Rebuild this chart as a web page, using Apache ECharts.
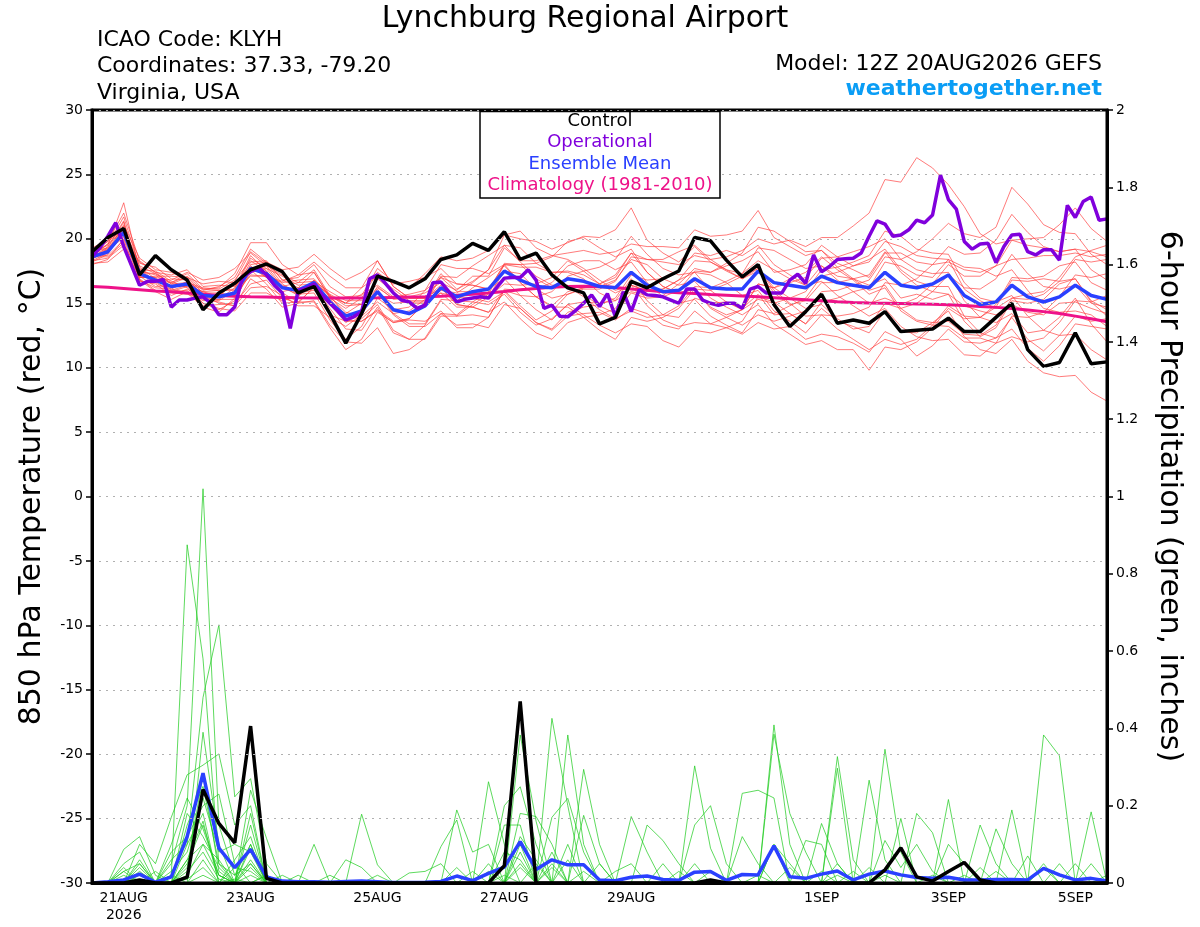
<!DOCTYPE html>
<html><head><meta charset="utf-8">
<script src="https://cdn.jsdelivr.net/npm/echarts@6/dist/echarts.min.js"></script>
<style>html,body{margin:0;padding:0;background:#fff}#c{width:1200px;height:927px}</style>
</head><body><div id="c"></div>
<script>
// ---- time axis (hours after 12Z 20AUG2026) ----
const stepHours = 6;          // ensemble / control / mean / climatology step
const opStepHours = 3;        // operational run step
const tickHours = [12, 60, 108, 156, 204, 276, 324, 372];
const tickLabels = ['21AUG\n2026', '23AUG', '25AUG', '27AUG', '29AUG', '1SEP', '3SEP', '5SEP'];

// ---- 850 hPa temperature (C) ----
const controlTemp = [19.0,20.1,20.8,17.2,18.7,17.6,16.8,14.5,15.8,16.55,17.6,18.05,17.45,15.8,16.3,14.2,11.9,14.2,17.1,16.7,16.2,16.9,18.4,18.75,19.65,19.1,20.55,18.4,18.9,17.2,16.2,15.8,13.4,13.9,16.7,16.2,16.9,17.5,20.1,19.85,18.35,17.05,18.0,14.9,13.2,14.35,15.7,13.45,13.7,13.45,14.35,12.8,12.9,13.0,13.85,12.8,12.8,13.9,15.0,11.4,10.1,10.4,12.7,10.3,10.45];
const operationalTemp = [18.6,19.3,20.2,21.25,19.4,17.9,16.4,16.7,16.7,16.85,
 14.7,15.25,15.25,15.4,15.5,15.0,14.1,14.1,14.7,17.05,
 17.45,17.8,17.2,16.4,15.8,13.05,16.0,16.15,16.5,15.65,
 15.0,14.4,13.7,13.95,14.35,16.9,17.2,16.55,15.8,15.25,
 15.1,14.6,14.85,16.6,16.65,15.9,15.1,15.3,15.4,15.5,
 15.4,16.2,16.95,17.0,17.0,17.6,16.8,14.6,14.85,14.0,
 13.95,14.45,15.0,15.65,14.75,15.75,13.95,15.9,14.35,16.05,
 15.65,15.6,15.5,15.25,15.0,16.1,16.1,15.25,15.0,14.85,
 15.0,15.0,14.6,16.1,16.3,15.8,15.8,15.8,16.8,17.25,
 16.55,18.75,17.45,17.85,18.4,18.45,18.5,18.9,20.2,21.4,
 21.15,20.2,20.3,20.7,21.45,21.25,21.85,24.95,23.05,22.3,
 19.8,19.2,19.6,19.65,18.15,19.4,20.3,20.35,19.0,18.75,
 19.15,19.15,18.35,22.6,21.65,22.9,23.25,21.45,21.55];
const meanTemp = [18.6,19.0,20.5,17.3,16.8,16.3,16.5,15.6,15.5,15.8,17.7,17.3,16.2,16.0,16.6,15.1,14.0,14.4,15.9,14.5,14.2,14.8,16.2,15.5,15.9,16.1,17.5,16.8,16.3,16.2,16.9,16.7,16.3,16.2,17.4,16.4,15.9,16.0,16.9,16.2,16.1,16.1,17.5,16.6,16.4,16.2,17.1,16.6,16.4,16.2,17.4,16.4,16.2,16.5,17.2,15.6,14.9,15.1,16.4,15.5,15.1,15.5,16.4,15.6,15.3];
const climTemp = [16.3,16.25,16.15,16.05,15.95,15.9,15.8,15.7,15.6,15.55,15.5,15.48,15.45,15.42,15.4,15.4,15.4,15.4,15.42,15.45,15.48,15.5,15.55,15.62,15.7,15.8,15.92,16.05,16.15,16.25,16.3,16.32,16.3,16.22,16.1,16.0,15.9,15.82,15.75,15.68,15.62,15.56,15.5,15.43,15.35,15.28,15.2,15.12,15.06,15.02,15.0,14.98,14.95,14.92,14.88,14.82,14.75,14.68,14.6,14.48,14.35,14.2,14.0,13.8,13.57];

const tempM01 = [18.9,19.5,22.8,17.5,17.2,16.3,16.3,15.9,16.0,16.1,18.5,17.7,16.2,15.7,16.8,15.5,15.0,15.7,16.4,15.5,15.7,16.0,17.0,16.5,16.4,16.1,18.0,17.8,17.8,17.4,17.5,17.2,16.5,17.2,18.9,18.4,18.2,18.0,18.7,18.4,18.6,19.1,20.0,19.6,19.9,19.4,20.1,20.1,21.0,22.0,24.6,24.4,26.3,25.5,24.2,22.5,20.4,19.6,19.9,19.5,19.3,19.0,19.2,19.0,18.6];
const tempM02 = [18.3,18.5,19.5,17.6,16.6,15.9,16.0,14.8,14.9,15.0,16.5,16.8,15.4,15.0,16.3,14.6,13.0,12.9,14.7,12.7,12.2,13.3,15.2,14.0,14.1,13.9,16.0,15.6,14.5,13.7,14.9,15.1,15.0,15.2,16.9,15.2,14.1,13.9,15.4,15.0,15.1,14.6,15.7,14.1,14.2,13.4,14.6,13.6,13.2,12.7,14.4,12.8,12.7,13.5,14.4,12.4,11.4,11.1,12.2,10.5,9.6,9.3,9.4,8.1,7.4];
const tempM03 = [19.1,19.8,20.7,17.9,17.3,16.6,17.1,16.0,16.3,17.0,19.2,18.2,16.8,17.0,18.0,16.3,15.5,15.6,17.7,16.7,16.2,17.3,18.6,18.3,18.5,19.1,20.3,20.0,19.8,19.2,19.7,20.2,20.1,20.7,22.4,19.9,18.9,18.2,19.4,18.2,17.6,17.3,18.3,17.6,16.9,16.4,17.9,17.1,16.9,16.4,16.9,15.4,15.7,15.3,15.7,14.8,14.4,14.1,14.9,14.3,14.1,15.0,15.1,14.6,14.2];
const tempM04 = [18.4,19.2,21.0,17.0,17.1,17.1,17.0,15.8,15.8,15.6,17.2,17.1,16.6,16.8,16.9,15.6,14.8,14.9,16.2,15.4,15.5,15.8,16.6,16.0,17.1,17.1,19.3,18.3,18.3,18.7,18.9,19.1,18.8,19.0,19.6,19.4,19.4,19.3,20.7,20.2,20.3,20.6,22.2,20.1,19.4,18.7,19.1,18.1,17.6,17.0,18.9,18.9,18.2,18.0,18.2,17.6,17.4,17.9,18.4,18.5,18.7,18.7,18.9,18.6,18.8];
const tempM05 = [18.7,18.7,19.9,16.9,16.0,15.8,15.7,15.3,15.1,14.8,16.9,16.1,14.7,15.0,15.2,13.3,12.0,11.9,13.1,11.1,11.4,12.3,14.2,13.3,13.4,13.1,14.9,14.6,13.5,12.9,14.0,14.2,14.3,13.7,14.6,14.2,13.3,13.0,14.4,13.4,13.1,12.6,13.5,13.0,13.2,12.2,12.6,12.4,11.9,11.2,12.8,12.2,10.9,11.7,13.0,12.0,11.9,12.3,13.9,12.2,11.3,12.5,14.0,13.6,13.8];
const tempM06 = [18.8,19.6,21.7,17.8,16.9,16.1,16.7,15.5,15.3,16.2,18.7,17.5,15.9,16.2,17.4,15.5,14.3,14.0,15.1,14.2,14.4,15.3,17.3,16.1,16.7,17.6,19.5,19.3,18.1,17.4,17.4,16.9,15.8,15.2,15.9,15.6,15.6,16.5,17.7,17.4,17.9,18.3,19.0,17.4,17.6,18.0,19.5,18.6,17.9,18.2,19.8,19.4,18.7,18.5,18.4,16.1,15.2,14.6,15.4,15.7,15.9,17.0,18.6,19.1,19.5];
const tempM07 = [18.2,18.8,20.8,18.1,17.8,16.9,16.8,15.7,15.7,16.4,17.8,17.0,16.4,15.8,16.0,14.9,13.5,14.2,16.3,15.3,15.4,15.4,16.4,15.2,15.1,14.9,15.7,14.3,13.3,13.8,14.9,14.1,13.3,12.7,13.4,13.2,12.1,11.6,12.9,12.7,13.1,13.6,15.5,15.1,14.2,13.4,15.1,15.4,15.9,16.2,18.2,17.9,17.2,17.0,18.4,17.8,17.7,17.1,17.6,16.0,14.6,14.3,14.4,14.1,13.2];
const tempM08 = [19.0,19.1,20.1,18.2,17.4,17.2,17.6,16.3,16.4,16.3,17.5,17.9,17.2,16.6,16.7,15.9,15.2,15.2,15.7,15.0,15.1,15.1,15.8,14.7,14.7,15.5,17.5,17.3,16.1,15.4,15.7,16.2,16.5,17.0,18.9,17.4,16.3,15.8,16.1,14.7,14.1,14.5,16.5,16.2,16.9,17.4,18.6,17.6,16.8,15.7,16.2,14.4,13.6,13.3,13.2,12.3,12.3,11.9,12.4,12.0,12.3,13.5,15.2,15.1,15.6];
const tempM09 = [18.5,19.4,21.4,17.1,16.3,16.4,16.5,16.1,16.2,17.3,19.7,19.7,18.0,17.2,18.2,17.1,16.2,16.2,17.1,16.1,15.2,15.2,16.0,15.8,16.6,17.6,20.3,20.6,19.3,18.7,18.4,17.7,16.8,16.0,16.4,15.9,16.1,16.8,17.4,17.2,16.6,15.6,16.0,14.4,13.6,12.7,14.1,14.0,14.2,14.7,16.6,16.4,16.9,18.0,19.4,18.8,18.9,19.9,21.9,20.5,19.4,19.0,19.2,17.6,16.8];
const tempM10 = [19.2,19.2,20.2,17.6,17.5,16.7,16.2,15.0,14.5,15.2,17.6,16.5,15.0,15.1,16.2,14.1,13.6,13.6,14.4,13.5,13.7,13.6,14.4,13.1,13.1,13.9,16.0,14.8,13.7,14.4,15.7,16.1,16.1,16.7,18.6,18.4,18.4,19.0,19.5,18.4,17.6,16.9,17.5,15.8,14.9,15.2,16.6,16.6,16.9,17.2,19.0,17.4,16.4,15.9,15.7,13.6,12.4,13.1,15.2,15.0,15.3,16.5,16.9,15.1,14.0];
const tempM11 = [18.6,18.6,19.7,16.7,16.5,15.6,16.1,15.4,15.2,16.0,18.2,18.3,16.8,16.2,16.4,15.4,14.6,15.4,17.4,16.5,16.7,17.0,17.7,16.5,16.4,16.1,16.9,15.6,15.5,15.9,17.1,17.5,17.8,18.4,20.2,18.8,17.7,17.2,17.4,16.0,15.1,14.5,15.3,15.0,15.4,15.9,17.6,17.8,18.2,18.7,20.6,20.2,19.2,18.9,18.8,16.6,15.4,15.1,15.6,14.0,12.9,12.5,12.6,11.4,10.6];
const tempM12 = [18.9,19.8,22.0,18.3,17.4,16.5,17.0,16.5,16.7,16.6,17.9,17.0,16.3,16.6,17.6,15.6,14.0,13.8,14.9,12.9,12.2,12.2,14.0,14.0,14.9,15.7,18.0,18.0,16.9,16.2,16.3,15.5,14.5,13.8,14.4,13.9,14.1,14.8,16.3,16.2,16.7,17.3,19.3,19.1,18.4,17.7,17.9,16.8,15.9,15.0,15.4,14.9,15.4,16.5,18.0,17.1,17.1,17.9,19.9,20.0,20.1,21.1,22.4,20.8,19.8];
const tempM13 = [18.1,18.2,19.2,17.1,16.8,16.6,17.3,16.1,16.0,16.0,17.1,17.1,16.7,17.2,17.4,15.4,13.7,13.6,14.5,13.6,13.8,15.1,17.1,17.0,17.9,18.7,19.5,18.2,17.1,16.4,16.4,15.7,14.8,14.2,15.8,15.4,15.5,16.0,17.5,17.4,18.1,18.9,20.9,20.6,19.8,19.0,19.1,17.8,16.9,16.0,16.4,14.6,13.7,13.5,13.6,12.6,12.5,13.3,15.4,15.3,15.7,16.7,18.4,18.2,18.4];
const tempM14 = [18.8,19.0,21.1,18.5,17.6,17.4,16.9,15.6,15.0,14.8,16.2,16.3,15.6,14.8,14.8,13.9,13.2,14.1,16.1,14.2,13.4,13.4,15.3,15.2,16.2,17.0,17.9,16.6,15.5,14.7,14.7,13.9,12.9,12.2,13.9,13.6,13.9,14.6,16.1,16.0,16.5,17.1,17.7,16.0,15.0,14.0,14.1,13.0,12.2,11.4,12.2,11.8,12.2,13.3,14.8,14.0,13.9,14.7,16.8,16.7,16.9,16.7,16.9,15.2,14.5];
const tempM15 = [18.4,19.3,20.4,16.8,15.9,15.3,15.9,15.2,15.3,15.3,17.4,17.7,17.1,16.4,16.5,15.7,15.0,16.2,18.3,16.3,15.4,15.4,16.2,14.9,14.7,14.3,16.1,16.0,16.1,16.6,17.9,18.3,18.3,17.6,18.2,16.6,15.5,15.0,15.3,14.0,13.3,12.7,14.5,14.2,14.8,15.4,17.1,17.4,17.9,18.4,19.2,17.6,16.7,16.3,16.3,14.0,12.7,12.3,13.0,11.5,10.5,11.7,13.4,13.2,13.0];
const tempM16 = [19.3,19.9,20.8,17.2,17.0,16.0,16.4,15.9,15.5,16.7,19.0,18.1,16.5,15.7,15.8,13.7,12.2,13.2,15.4,14.5,14.7,16.0,18.0,17.7,17.7,17.3,18.0,16.6,15.5,14.8,15.9,16.2,16.3,16.8,18.4,18.0,16.9,16.4,16.7,15.4,14.7,14.1,14.9,13.4,12.6,11.8,12.1,11.4,11.4,9.8,11.6,11.4,12.0,13.1,14.6,13.8,13.9,14.9,17.0,16.9,17.1,17.9,18.2,16.6,16.0];
const tempM17 = [18.3,18.9,20.9,17.0,17.0,16.8,17.4,16.8,17.0,17.7,18.9,17.9,16.3,15.6,16.6,15.6,15.0,14.9,15.9,14.1,13.2,13.2,14.2,14.1,15.1,15.9,18.1,18.0,18.1,18.6,19.8,20.1,19.3,18.6,19.2,17.4,16.3,15.8,16.1,14.6,13.9,13.3,14.1,13.6,14.0,14.4,15.9,16.0,16.4,16.8,18.6,18.4,19.0,20.0,21.2,20.4,20.1,20.9,24.0,22.7,21.1,20.5,20.4,18.8,18.0];
const tempM18 = [18.7,19.6,20.6,17.7,16.7,15.9,16.3,15.0,14.6,14.4,15.8,15.8,15.2,15.5,16.8,14.9,14.2,15.0,16.9,15.9,15.0,15.0,15.8,15.5,15.4,15.1,15.9,14.6,13.5,13.0,14.3,14.7,14.9,15.4,17.2,16.8,16.9,17.5,18.9,18.7,19.1,18.7,19.5,18.0,17.2,16.4,16.7,15.6,14.8,14.0,14.6,13.2,12.4,12.1,12.2,11.0,10.9,11.9,14.0,13.9,14.3,15.5,17.2,17.0,17.3];
const tempM19 = [18.0,18.4,20.0,17.4,17.3,16.5,16.6,16.2,16.1,16.8,18.3,17.5,15.8,15.1,15.1,13.1,11.4,12.2,14.3,13.5,13.8,15.0,17.0,15.9,15.9,15.5,16.5,16.4,16.5,17.0,18.3,17.5,16.5,15.8,16.4,14.8,13.7,13.2,13.5,13.4,13.9,14.5,16.5,16.2,16.6,17.0,18.5,18.6,19.0,19.4,20.0,18.4,17.6,17.3,17.4,15.2,13.9,13.5,14.2,12.7,12.9,13.9,15.4,13.4,12.0];
const tempM20 = [19.0,19.3,21.3,16.8,16.2,16.1,15.8,14.7,14.3,15.4,18.0,18.2,17.6,17.8,18.8,17.7,16.8,17.4,18.3,16.3,15.4,15.4,16.2,14.9,14.7,14.3,15.1,13.8,12.7,12.2,13.5,13.9,14.1,14.6,16.4,16.0,16.1,16.8,18.3,18.2,17.5,16.9,17.7,16.2,15.4,14.6,14.9,13.8,13.0,13.2,15.0,14.6,15.0,15.9,17.2,16.2,16.1,16.9,18.8,17.3,16.3,16.1,16.4,15.0,14.7];
const tempMembers = [tempM01,tempM02,tempM03,tempM04,tempM05,tempM06,tempM07,tempM08,tempM09,tempM10,tempM11,tempM12,tempM13,tempM14,tempM15,tempM16,tempM17,tempM18,tempM19,tempM20];

// ---- 6-hour precipitation (inches) ----
const controlPrecip = [0,0,0,0.008,0,0,0.015,0.242,0.154,0.104,0.406,0.012,0,0,0,0,0,0,0,0,0,0,0,0,0,0,0.045,0.47,0,0,0,0,0,0,0,0,0,0,0,0.008,0,0,0,0,0,0,0,0,0,0,0.034,0.091,0.016,0.005,0.03,0.053,0.008,0,0,0,0,0,0,0,0];
const meanPrecip = [0,0.003,0.008,0.023,0.002,0.016,0.12,0.284,0.09,0.04,0.087,0.016,0.005,0.003,0.003,0.002,0.004,0.005,0.003,0.001,0.001,0.002,0.004,0.018,0.006,0.025,0.041,0.107,0.035,0.06,0.047,0.047,0.008,0.006,0.015,0.018,0.009,0.007,0.028,0.03,0.007,0.022,0.021,0.096,0.016,0.012,0.023,0.031,0.008,0.023,0.031,0.021,0.014,0.012,0.015,0.008,0.008,0.009,0.009,0.008,0.038,0.021,0.008,0.012,0.005];

const precipM01 = [0,0,0.03,0.05,0,0.02,0.875,0.58,0.05,0.02, 0.1,0,0,0,0,0,0,0,0,0, 0,0,0,0,0,0,0,0.05,0,0.426, 0.2,0,0,0,0,0,0,0,0,0, 0,0,0,0.1,0,0,0,0,0,0, 0,0,0,0,0,0,0,0,0,0, 0.05,0,0,0,0];
const precipM02 = [0,0,0,0,0,0.05,0.2,1.02,0.15,0.02, 0.05,0,0,0,0,0,0,0.178,0.047,0, 0,0,0,0,0,0,0,0,0,0, 0,0,0,0,0,0,0,0,0.303,0.09, 0,0,0,0,0,0,0,0.05,0,0, 0,0,0,0,0,0,0,0,0.189,0, 0,0,0,0,0];
const precipM03 = [0,0,0,0,0,0,0.1,0.48,0.668,0.223, 0.27,0.05,0,0,0,0,0,0,0,0, 0,0,0,0,0,0.262,0.1,0,0,0, 0,0,0,0,0,0,0,0,0,0, 0,0,0,0.409,0.1,0,0,0,0,0, 0,0,0,0,0,0,0,0,0,0, 0,0,0,0,0];
const precipM04 = [0,0,0.087,0.12,0.02,0,0,0.39,0.1,0, 0.24,0.116,0,0,0,0,0,0,0,0, 0,0,0,0,0,0,0,0.383,0.16,0, 0,0,0,0,0,0,0,0,0,0, 0,0,0,0,0,0,0,0.327,0.06,0, 0,0,0,0,0,0,0,0,0,0, 0,0,0,0,0];
const precipM05 = [0,0,0,0.1,0.05,0.17,0.28,0.305,0.334,0.15, 0.2,0,0,0,0,0,0,0,0,0, 0,0,0,0,0,0,0,0,0,0, 0.383,0.1,0,0,0,0,0,0,0,0, 0,0,0,0,0,0,0,0,0,0, 0.346,0.08,0,0,0,0,0,0,0,0, 0,0,0,0,0];
const precipM06 = [0,0,0.05,0.08,0,0,0.15,0.25,0.05,0, 0.1,0,0,0,0,0,0,0,0,0, 0,0,0,0.189,0.08,0.1,0,0,0,0, 0,0,0,0,0,0,0,0,0,0, 0,0.232,0.24,0.22,0,0,0,0,0,0, 0,0,0,0,0,0,0,0,0,0, 0.383,0.329,0,0,0];
const precipM07 = [0,0,0,0.05,0,0.08,0.12,0.2,0.23,0.05, 0,0,0,0,0,0,0,0,0,0, 0,0,0,0,0,0,0,0,0,0, 0,0.294,0.1,0,0,0,0,0,0,0, 0,0,0,0,0,0,0,0,0,0.266, 0.06,0,0,0,0,0,0,0,0,0, 0,0,0,0.184,0];
const precipM08 = [0,0,0.03,0,0,0,0.05,0.15,0.02,0, 0.15,0,0,0,0.1,0,0,0,0,0, 0,0,0.094,0.163,0,0,0.2,0.249,0.1,0, 0,0,0,0,0,0,0,0,0,0, 0,0,0,0,0,0,0,0.297,0,0, 0,0,0,0,0.216,0,0,0,0,0, 0,0,0,0,0];
const precipM09 = [0,0,0,0,0,0.03,0.08,0.22,0.08,0.1, 0.08,0,0,0,0,0,0.06,0.04,0,0, 0,0,0,0,0,0,0,0,0,0.17, 0.219,0.08,0,0,0,0,0,0,0,0, 0,0,0,0,0,0,0,0,0,0, 0,0,0.18,0.13,0,0,0,0,0,0, 0,0,0,0,0];
const precipM10 = [0,0,0,0.04,0,0,0.18,0.12,0.04,0, 0,0.02,0,0,0,0,0,0,0,0, 0,0,0,0,0,0,0,0.18,0.172,0.1, 0,0,0,0,0.172,0.08,0,0,0,0, 0,0,0,0,0,0,0,0,0,0, 0,0,0,0,0,0,0.15,0.05,0,0, 0,0,0,0,0];
const precipM11 = [0,0,0.02,0,0,0.06,0.1,0.18,0,0.06, 0.12,0,0.02,0,0,0,0,0,0,0, 0,0,0,0,0,0,0.15,0.15,0,0, 0,0.175,0.05,0,0,0,0,0,0,0, 0,0,0,0.385,0.18,0.08,0,0,0,0, 0,0,0,0,0,0,0,0,0,0, 0,0,0,0,0];
const precipM12 = [0,0,0,0.06,0,0,0.06,0.1,0.06,0, 0.05,0,0,0,0,0,0,0,0,0, 0.026,0.03,0.05,0,0,0,0,0,0,0.08, 0,0,0,0,0,0,0,0,0.15,0.2, 0.05,0,0,0,0,0,0,0,0,0, 0,0,0,0,0,0,0,0.14,0.05,0, 0,0,0,0,0];
const precipM13 = [0,0,0.04,0,0.03,0,0.04,0.28,0.03,0, 0.18,0,0,0,0,0,0,0,0,0, 0,0,0,0,0,0.05,0,0.1,0,0, 0,0,0,0,0,0.15,0.11,0.05,0,0, 0,0,0,0,0,0,0.154,0.05,0,0, 0,0,0,0,0,0,0,0,0,0.07, 0,0,0,0,0];
const precipM14 = [0,0,0,0,0,0.1,0.22,0.14,0.02,0, 0.06,0,0,0.02,0,0,0,0,0,0, 0,0,0,0,0,0,0,0,0.05,0, 0.1,0,0,0,0,0,0.05,0,0,0, 0,0.12,0.05,0,0,0.11,0.1,0,0,0, 0,0.167,0,0,0,0,0,0,0,0, 0,0,0,0,0];
const precipM15 = [0,0,0,0.03,0,0,0.06,0.16,0,0.04, 0.03,0,0,0,0,0.02,0,0,0,0, 0,0,0,0,0.03,0,0,0.08,0,0.05, 0,0,0,0.03,0.05,0,0,0,0,0, 0,0,0,0,0,0,0,0,0,0, 0.11,0.04,0.1,0.03,0,0,0,0,0,0, 0,0,0,0.05,0];
const precipM16 = [0,0,0.01,0,0,0,0.03,0.08,0.01,0, 0.09,0,0,0,0,0,0,0,0.02,0, 0,0,0,0,0,0,0,0.12,0.06,0, 0,0,0,0,0,0,0,0,0,0, 0,0,0,0.1,0.05,0,0,0,0,0, 0,0,0,0,0.1,0.05,0,0,0,0, 0,0.05,0,0,0];
const precipM17 = [0,0,0,0.02,0,0,0.02,0.1,0.02,0, 0.04,0,0,0,0,0,0,0,0,0, 0,0,0,0,0,0,0.08,0.06,0,0, 0,0,0.05,0,0,0,0,0.03,0,0, 0,0,0,0,0,0,0,0,0,0.04, 0,0,0,0,0,0,0.04,0,0,0, 0,0,0.05,0,0.02];
const precipM18 = [0,0,0,0,0,0.02,0,0.06,0,0, 0,0.02,0,0,0,0,0,0,0,0, 0,0,0,0.04,0,0,0,0.04,0,0, 0.06,0,0,0,0,0,0,0,0.05,0, 0,0,0,0,0.04,0,0,0,0.03,0, 0,0,0,0,0,0,0,0.03,0,0, 0,0,0,0,0];
const precipM19 = [0,0,0,0,0,0,0.01,0.04,0,0, 0.02,0,0,0,0,0,0,0,0,0, 0,0,0,0,0,0.03,0,0,0,0.04, 0,0,0,0,0,0,0,0,0,0.03, 0,0,0,0,0,0,0,0.02,0,0, 0,0,0,0.02,0,0,0,0,0,0, 0.04,0,0,0,0];
const precipM20 = [0,0,0,0,0,0,0,0.02,0,0.01, 0,0,0,0,0,0,0,0,0,0, 0,0,0,0,0,0,0.02,0,0,0, 0,0.03,0,0,0,0,0,0,0,0, 0,0,0.02,0,0,0,0.03,0,0,0, 0.02,0,0,0,0,0.02,0,0,0,0, 0,0,0,0,0];
const precipMembers = [precipM01,precipM02,precipM03,precipM04,precipM05,precipM06,precipM07,precipM08,precipM09,precipM10,precipM11,precipM12,precipM13,precipM14,precipM15,precipM16,precipM17,precipM18,precipM19,precipM20];

// ---- build chart ----
const FONT = '"DejaVu Sans", "Liberation Sans", Arial, sans-serif';
const C_RED = '#ff3c3c', C_GREEN = '#1fcc1f', C_OP = '#8000dc', C_MEAN = '#2a40ff', C_CLIM = '#ee1289';
const toPairs = (arr, step) => arr.map((v, i) => [i * step, v]);
const labelMap = {};
tickHours.forEach((h, k) => { labelMap[h] = tickLabels[k]; });

const series = [];
tempMembers.forEach(m => series.push({
  type: 'line', yAxisIndex: 0, data: toPairs(m, stepHours), symbol: 'none', silent: true, z: 2,
  lineStyle: { color: C_RED, width: 0.8, opacity: 0.85 }
}));
precipMembers.forEach(m => series.push({
  type: 'line', yAxisIndex: 1, data: toPairs(m, stepHours), symbol: 'none', silent: true, z: 2,
  lineStyle: { color: C_GREEN, width: 0.8, opacity: 0.9 }
}));
const thick = (data, yi, color, w, z) => ({
  type: 'line', yAxisIndex: yi, data, symbol: 'none', silent: true, z,
  lineStyle: { color, width: w }
});
series.push(thick(toPairs(climTemp, stepHours), 0, C_CLIM, 3, 3));
series.push(thick(toPairs(meanTemp, stepHours), 0, C_MEAN, 3.5, 4));
series.push(thick(toPairs(operationalTemp, opStepHours), 0, C_OP, 3.5, 5));
series.push(thick(toPairs(controlTemp, stepHours), 0, '#000', 3.5, 6));
series.push(thick(toPairs(meanPrecip, stepHours), 1, C_MEAN, 3.5, 4));
series.push(thick(toPairs(controlPrecip, stepHours), 1, '#000', 3.5, 5));

const txt = (text, x, y, size, color, align, weight) => ({
  type: 'text', x, y, z: 100,
  style: { text, fill: color, font: (weight || 'normal') + ' ' + size + 'px ' + FONT,
           align, verticalAlign: 'middle', textAlign: align, textVerticalAlign: 'middle' }
});

const option = {
  animation: false,
  backgroundColor: '#fff',
  grid: { left: 92, right: 93, top: 110, bottom: 44, show: true, borderColor: '#000', borderWidth: 3,
          backgroundColor: 'transparent', z: 20 },
  xAxis: {
    type: 'value', min: 0, max: 384, interval: 12, z: 20,
    axisLine: { show: true, onZero: false, lineStyle: { color: '#000', width: 3 } },
    axisTick: { show: false }, splitLine: { show: false },
    axisLabel: { color: '#000', fontSize: 14, fontFamily: FONT, margin: 7, lineHeight: 17,
                 formatter: v => labelMap[v] || '' }
  },
  yAxis: [{
    type: 'value', position: 'left', min: -30, max: 30, interval: 5, z: 20,
    axisLine: { show: true, onZero: false, lineStyle: { color: '#000', width: 3 } },
    axisTick: { show: true, length: 6, lineStyle: { color: '#000', width: 1.5 } },
    axisLabel: { color: '#000', fontSize: 14, fontFamily: FONT, margin: 9 },
    splitLine: { show: true, lineStyle: { color: '#b0b0b0', width: 1.2, type: [2, 5] } },
    name: '850 hPa Temperature (red, °C)', nameLocation: 'middle', nameGap: 45, nameRotate: 90,
    nameTextStyle: { color: '#000', fontSize: 30, fontFamily: FONT }
  }, {
    type: 'value', position: 'right', min: 0, max: 2, interval: 0.2, z: 20,
    axisLine: { show: true, onZero: false, lineStyle: { color: '#000', width: 3 } },
    axisTick: { show: true, length: 6, lineStyle: { color: '#000', width: 1.5 } },
    axisLabel: { color: '#000', fontSize: 14, fontFamily: FONT, margin: 9 },
    splitLine: { show: false },
    name: '6-hour Precipitation (green, inches)', nameLocation: 'middle', nameGap: 47, nameRotate: -90,
    nameTextStyle: { color: '#000', fontSize: 30, fontFamily: FONT }
  }],
  graphic: [
    txt('Lynchburg Regional Airport', 585, 19, 30, '#000', 'center'),
    txt('ICAO Code: KLYH', 97, 40, 22, '#000', 'left'),
    txt('Coordinates: 37.33, -79.20', 97, 66, 22, '#000', 'left'),
    txt('Virginia, USA', 97, 93, 22, '#000', 'left'),
    txt('Model: 12Z 20AUG2026 GEFS', 1102, 64, 22, '#000', 'right'),
    txt('weathertogether.net', 1102, 89, 22, '#0a9df5', 'right', 'bold'),
    { type: 'rect', z: 90, shape: { x: 480, y: 111.5, width: 240, height: 86.5 },
      style: { fill: '#fff', stroke: '#000', lineWidth: 1.5 } },
    txt('Control', 600, 121, 18, '#000', 'center'),
    txt('Operational', 600, 142, 18, C_OP, 'center'),
    txt('Ensemble Mean', 600, 164, 18, C_MEAN, 'center'),
    txt('Climatology (1981-2010)', 600, 185, 18, C_CLIM, 'center')
  ],
  series
};
const chart = echarts.init(document.getElementById('c'));
chart.setOption(option);
</script></body></html>
